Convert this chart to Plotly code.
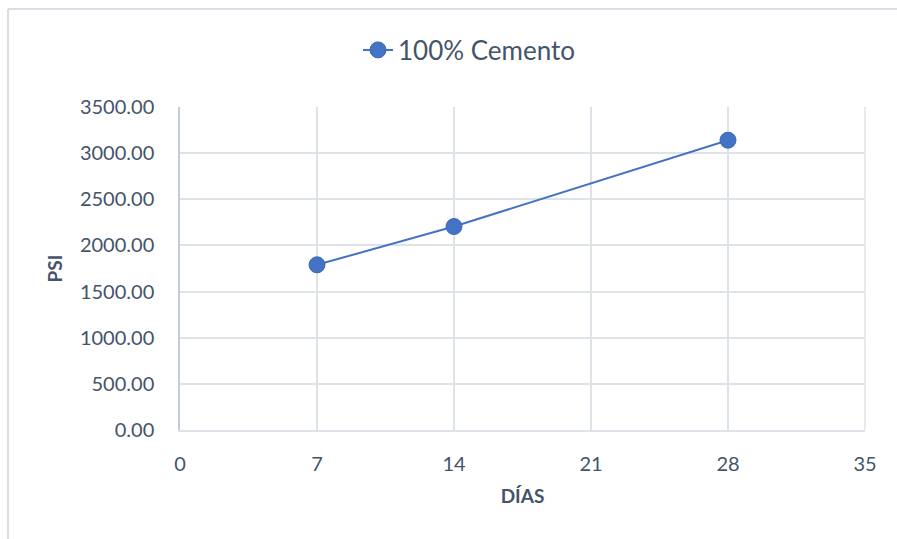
import plotly.graph_objects as go

dias = [7, 14, 28]
psi = [1790, 2205, 3140]
serie = "100% Cemento"
x_ticks = [0, 7, 14, 21, 28, 35]
y_ticks = [0, 500, 1000, 1500, 2000, 2500, 3000, 3500]

W, H = 897, 539
L, R, T, B = 180, 865, 107, 430

txt = "#44546A"
grid = "#DEE3EA"
font = "Lato"

fig = go.Figure()
fig.add_trace(go.Scatter(
    x=dias, y=psi, mode="lines+markers", name=serie,
    line=dict(color="#4472C4", width=2),
    marker=dict(color="#4472C4", size=16, line=dict(color="#3B67B8", width=1)),
))

def px(xp):
    return (xp - L) / (R - L)

def py(yp):
    return (B - yp) / (B - T)

fig.update_layout(
    width=W, height=H,
    margin=dict(l=L, r=W - R, t=T, b=H - B),
    paper_bgcolor="white", plot_bgcolor="white",
    font=dict(family=font, color=txt, size=20),
    showlegend=True,
    legend=dict(orientation="h", x=px(358), xanchor="left", y=py(50), yanchor="middle",
                font=dict(size=26, color=txt), bgcolor="rgba(0,0,0,0)"),
    xaxis=dict(range=[0, 35], tickvals=x_ticks, ticktext=[str(v) for v in x_ticks],
               showgrid=True, gridcolor=grid, gridwidth=1.5, zeroline=False,
               showline=True, linecolor=grid, linewidth=1.5, mirror=False,
               ticks="", tickfont=dict(size=20, color=txt), ticklabelstandoff=15,
               title=dict(text="<b>DÍAS</b>", font=dict(size=19, color=txt), standoff=16)),
    yaxis=dict(range=[0, 3500], tickvals=y_ticks, ticktext=[f"{v:.2f}" for v in y_ticks],
               showgrid=True, gridcolor=grid, gridwidth=1.5, zeroline=False,
               showline=True, linecolor="#C3CBD8", linewidth=1.5,
               ticks="", tickfont=dict(size=20, color=txt), ticklabelstandoff=20,
               title=dict(text="<b>PSI</b>", font=dict(size=19, color=txt), standoff=12)),
)

border = "#D9DEE6"
fig.add_shape(type="line", xref="paper", yref="paper", x0=px(8), x1=px(897), y0=py(9), y1=py(9),
              line=dict(color=border, width=2))
fig.add_shape(type="line", xref="paper", yref="paper", x0=px(8), x1=px(8), y0=py(9), y1=py(539),
              line=dict(color=border, width=2))
fig.add_shape(type="line", xref="paper", yref="paper", x0=1, x1=1, y0=0, y1=1,
              line=dict(color=grid, width=1.5))

fig.write_html("out.html")
